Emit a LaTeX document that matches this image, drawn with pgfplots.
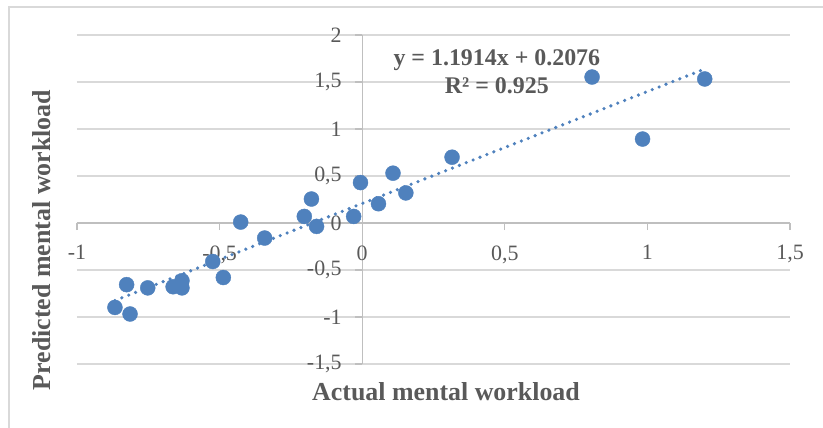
\documentclass[border=0pt]{standalone}
\usepackage{pgfplots}
\pgfplotsset{compat=1.18}
\usepackage{fontspec}
\setmainfont{Liberation Serif}
\definecolor{ptblue}{RGB}{79,129,189}
\definecolor{txtgray}{RGB}{89,89,89}
\definecolor{gridgray}{RGB}{217,217,217}
\definecolor{axgray}{RGB}{191,191,191}
\begin{document}
\begin{tikzpicture}[x=1bp,y=1bp]
\useasboundingbox (-77,-63) rectangle (746,364);
\draw[gridgray, line width=1.2bp] (-68,357) rectangle (760,-80);
\begin{axis}[
  at={(0,0)}, anchor=south west,
  scale only axis, width=713bp, height=329bp,
  xmin=-1, xmax=1.5, ymin=-1.5, ymax=2,
  axis lines=middle,
  hide obscured x ticks=false,
  hide obscured y ticks=false,
  axis line style={-, axgray, line width=1.2bp},
  xtick={-1,-0.5,0,0.5,1,1.5},
  ytick={-1.5,-1,-0.5,0,0.5,1,1.5,2},
  xticklabels={-1,{-0,5},0,{0,5},1,{1,5}},
  yticklabels={{-1,5},-1,{-0,5},0,{0,5},1,{1,5},2},
  tick align=outside,
  major tick length=7bp,
  tick style={axgray, line width=1.2bp},
  ymajorgrids,
  grid style={gridgray, line width=1.2bp},
  ticklabel style={font=\fontsize{22}{24}\selectfont, text=txtgray},
  xticklabel style={yshift=-12bp},
  yticklabel style={xshift=-10bp},
  clip=false,
]
\addplot[only marks, mark=*, mark size=7.5bp, mark options={fill=ptblue, draw=ptblue}] coordinates {
(0.315,0.70) (0.108,0.53) (0.153,0.32) (0.057,0.205) (-0.006,0.43)
(-0.178,0.255) (-0.03,0.07) (-0.203,0.07) (-0.16,-0.036) (-0.426,0.01)
(-0.342,-0.16) (-0.524,-0.41) (-0.487,-0.58) (-0.632,-0.614) (-0.632,-0.69)
(-0.663,-0.678) (-0.752,-0.69) (-0.826,-0.656) (-0.867,-0.898) (-0.814,-0.968)
(0.806,1.553) (0.983,0.893) (1.201,1.532)
};
\addplot[ptblue, line width=3.6bp, line cap=round, dash pattern=on 0pt off 7.4bp] coordinates {
(-0.867,-0.825) (1.201,1.638)
};
\node[text=txtgray, font=\bfseries\fontsize{24}{28}\selectfont, align=center] at (axis cs:0.472,1.61) {y = 1.1914x + 0.2076\\R² = 0.925};
\end{axis}
\node[text=txtgray, font=\bfseries\fontsize{26}{30}\selectfont] at (369,-28) {Actual mental workload};
\node[text=txtgray, font=\bfseries\fontsize{26}{30}\selectfont, rotate=90] at (-35,124) {Predicted mental workload};
\end{tikzpicture}
\end{document}
